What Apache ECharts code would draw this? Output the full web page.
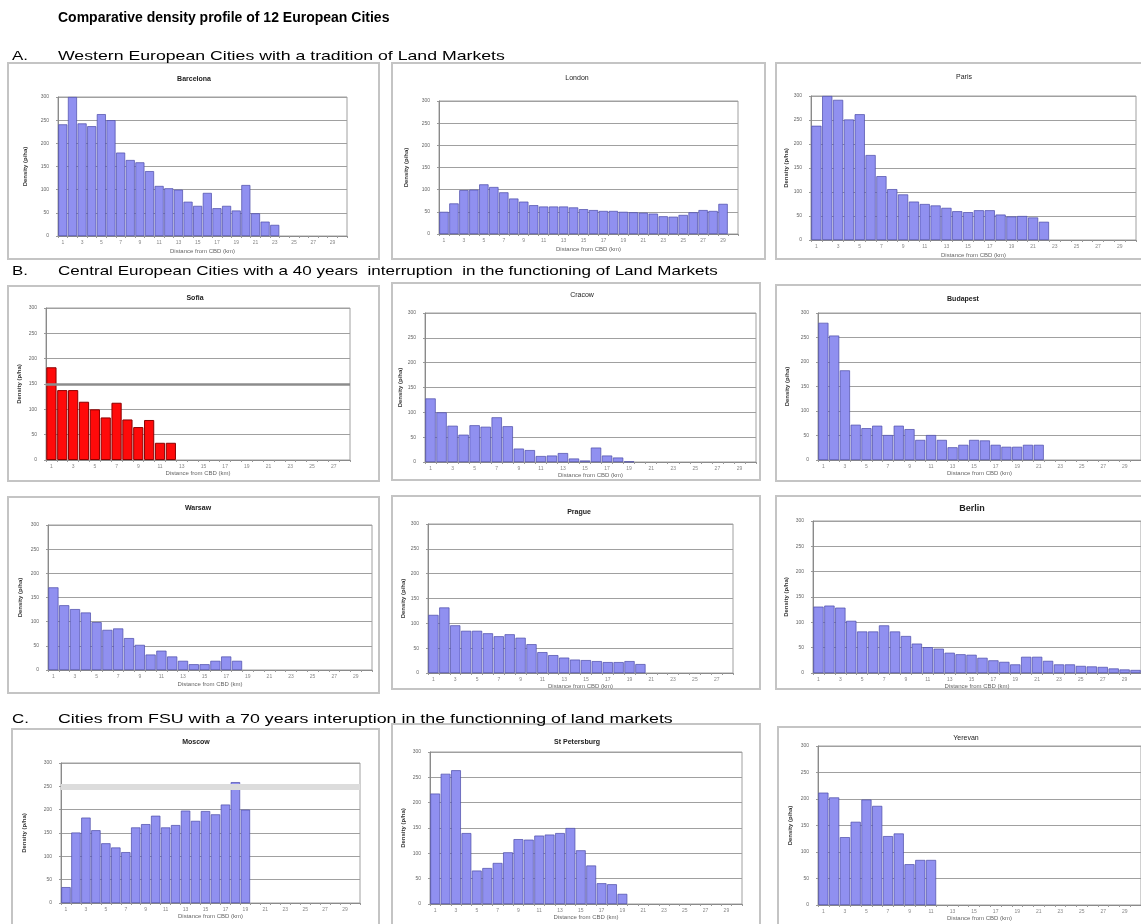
<!DOCTYPE html>
<html><head><meta charset="utf-8">
<script src="https://cdn.jsdelivr.net/npm/echarts@6/dist/echarts.min.js"></script>
<style>html,body{margin:0;padding:0;background:#fff;}#c{width:1141px;height:924px;}</style>
</head><body><div id="c"></div>
<script>
// ---------- data ----------
const mainTitle = "Comparative density profile of 12 European Cities";
const sectionLetters = ["A.", "B.", "C."];
const sectionTexts = [
  "Western European Cities with a tradition of Land Markets",
  "Central European Cities with a 40 years  interruption  in the functioning of Land Markets",
  "Cities from FSU with a 70 years interuption in the functionning of land markets"
];
const cityNames = ["Barcelona","London","Paris","Sofia","Cracow","Budapest","Warsaw","Prague","Berlin","Moscow","St Petersburg","Yerevan"];
const km30 = ["1","2","3","4","5","6","7","8","9","10","11","12","13","14","15","16","17","18","19","20","21","22","23","24","25","26","27","28","29","30"];
const km28 = ["1","2","3","4","5","6","7","8","9","10","11","12","13","14","15","16","17","18","19","20","21","22","23","24","25","26","27","28"];
const yTicks = [0,50,100,150,200,250,300];
const xAxisTitle = "Distance from CBD (km)";
const yAxisTitle = "Density (p/ha)";

const barcelona = [241,300,243,237,263,250,180,164,159,140,108,103,100,74,65,93,60,65,55,110,49,31,24];
const london = [50,69,99,100,112,106,94,80,73,65,62,62,62,60,56,54,52,52,50,49,48,46,40,39,43,49,54,52,68];
const paris = [238,300,292,251,262,177,133,106,95,80,75,72,67,60,58,62,62,53,49,50,47,38];
const sofia = [183,138,138,115,100,84,113,80,65,79,34,34];
const cracow = [128,100,73,55,74,71,90,72,27,24,12,13,18,7,3,29,13,9,1];
const budapest = [280,254,183,72,65,70,51,70,63,41,51,41,26,31,41,40,31,27,27,31,31];
const warsaw = [171,134,126,119,99,83,86,66,52,32,40,28,19,12,12,19,28,19];
const prague = [117,132,96,85,85,80,74,78,71,58,42,36,31,27,26,24,22,22,24,18];
const berlin = [131,133,129,103,82,82,94,82,73,58,51,48,40,37,36,30,25,22,17,32,32,24,17,17,14,13,12,9,7,6];
const moscow = [34,151,183,156,128,119,109,162,169,187,162,167,198,176,197,190,211,259,200];
const stPetersburg = [218,257,264,140,66,71,81,102,128,127,135,137,140,150,106,76,41,39,20];
const yerevan = [212,203,128,157,199,187,130,135,77,85,85];
const sofiaRefLine = 150;
const moscowRefLine = 250;

// ---------- layout ----------
const panelData = [barcelona,london,paris,sofia,cracow,budapest,warsaw,prague,berlin,moscow,stPetersburg,yerevan];
const panelCats = [km30,km30,km30,km28,km30,km30,km30,km28,km30,km30,km30,km30];
const layout = [
  {grid:[58,97,289,139],  box:[8,63,371,196],   t:[194,79,true],  yGap:30, xGap:12},
  {grid:[439,101,299,133],box:[392,63,373,196], t:[577,78,false], yGap:30, xGap:12},
  {grid:[811,96,325,144], box:[776,63,380,196], t:[964,77,false], yGap:20, xGap:12},
  {grid:[46,308,304,152], box:[8,286,371,195],  t:[195,298,true], yGap:24, xGap:7},
  {grid:[425,313,331,149],box:[392,283,368,197],t:[582,295,false],yGap:20, xGap:6},
  {grid:[818,313,324,147],box:[776,285,380,196],t:[963,299,true], yGap:28, xGap:8},
  {grid:[48,525,324,145], box:[8,497,371,196],  t:[198,508,true], yGap:25, xGap:11},
  {grid:[428,524,305,149],box:[392,496,368,193],t:[579,512,true], yGap:21, xGap:7},
  {grid:[813,521,330,152],box:[776,496,380,193],t:[972,509,true], yGap:24, xGap:5},
  {grid:[61,763,299,140], box:[12,729,367,210], t:[196,742,true], yGap:34, xGap:7},
  {grid:[430,752,312,152],box:[392,724,368,220],t:[577,742,true], yGap:24, xGap:5},
  {grid:[818,746,330,159],box:[778,727,380,220],t:[966,738,false],yGap:25, xGap:1}
];
const FONT = "'Liberation Sans', Arial, sans-serif";

const chart = echarts.init(document.getElementById('c'), null, {renderer:'canvas'});
const grids=[], xAxes=[], yAxes=[], series=[], graphics=[];

// panel boxes
layout.forEach(L=>{
  graphics.push({type:'rect', shape:{x:L.box[0],y:L.box[1],width:L.box[2],height:L.box[3]},
    style:{fill:'none', stroke:'#c4c4c4', lineWidth:2}, z:0, silent:true});
});

layout.forEach((L,i)=>{
  const isSofia = cityNames[i]==='Sofia';
  grids.push({left:L.grid[0], top:L.grid[1], width:L.grid[2], height:L.grid[3],
    show:true, borderColor:'#a0a0a0', borderWidth:1, backgroundColor:'#fff', containLabel:false});
  xAxes.push({type:'category', gridIndex:i, data:panelCats[i],
    axisLine:{lineStyle:{color:'#8a8a8a'}},
    axisTick:{show:true, interval:0, length:2, lineStyle:{color:'#999'}},
    axisLabel:{interval:1, fontSize:5, color:'#888', margin:4, fontFamily:FONT},
    name:xAxisTitle, nameLocation:'middle', nameGap:L.xGap,
    nameTextStyle:{fontSize:6, color:'#666', fontFamily:FONT}});
  yAxes.push({type:'value', gridIndex:i, min:yTicks[0], max:yTicks[yTicks.length-1],
    interval:yTicks[1]-yTicks[0],
    axisLine:{show:true, lineStyle:{color:'#8a8a8a'}},
    axisTick:{show:true, length:2, lineStyle:{color:'#999'}},
    axisLabel:{fontSize:5, color:'#666', margin:9, fontFamily:FONT},
    splitLine:{lineStyle:{color:'#a0a0a0', width:1}},
    name:yAxisTitle, nameLocation:'middle', nameRotate:90, nameGap:L.yGap,
    nameTextStyle:{fontSize:6, fontWeight:'bold', color:'#333', fontFamily:FONT}});
  series.push({type:'bar', name:cityNames[i], xAxisIndex:i, yAxisIndex:i, data:panelData[i],
    barCategoryGap:'6%', z:3,
    itemStyle: isSofia ? {color:'#ff0a0a', borderColor:'#8b0000', borderWidth:1}
                       : {color:'#9090f0', borderColor:'#4a4aa8', borderWidth:0.7}});
  graphics.push({type:'text', x:L.t[0], y:L.t[1], z:5, silent:true,
    style:{text:cityNames[i], textAlign:'center', textVerticalAlign:'middle',
      font:(L.t[2]?'bold ':'')+(cityNames[i]==='Berlin'?'9px ':'7px ')+FONT, fill:'#222'}});
});

// reference lines (behind bars)
series.push({type:'line', xAxisIndex:3, yAxisIndex:3, data:[], z:2, silent:true,
  markLine:{symbol:'none', silent:true, label:{show:false}, lineStyle:{color:'#8c8c8c', width:2.5, type:'solid'},
    data:[{yAxis:sofiaRefLine}]}});
series.push({type:'line', xAxisIndex:9, yAxisIndex:9, data:[], z:2, silent:true,
  markLine:{symbol:'none', silent:true, label:{show:false}, lineStyle:{color:'#dcdcdc', width:6, type:'solid'},
    data:[{yAxis:moscowRefLine}]}});

// headings
graphics.push({type:'text', x:58, y:18, silent:true,
  style:{text:mainTitle, textVerticalAlign:'middle', font:'bold 14px '+FONT, fill:'#000'}});
const secY = [56, 271, 719];
const secScale = [1.36, 1.31, 1.37];
sectionTexts.forEach((t,k)=>{
  graphics.push({type:'text', x:12, y:secY[k], silent:true, scaleX:1.3,
    style:{text:sectionLetters[k], textVerticalAlign:'middle', font:'13px '+FONT, fill:'#000'}});
  graphics.push({type:'text', x:58, y:secY[k], silent:true, scaleX:secScale[k],
    style:{text:t, textVerticalAlign:'middle', font:'13px '+FONT, fill:'#000'}});
});

chart.setOption({
  animation:false,
  backgroundColor:'#fff',
  grid:grids, xAxis:xAxes, yAxis:yAxes, series:series, graphic:graphics
});
</script></body></html>
